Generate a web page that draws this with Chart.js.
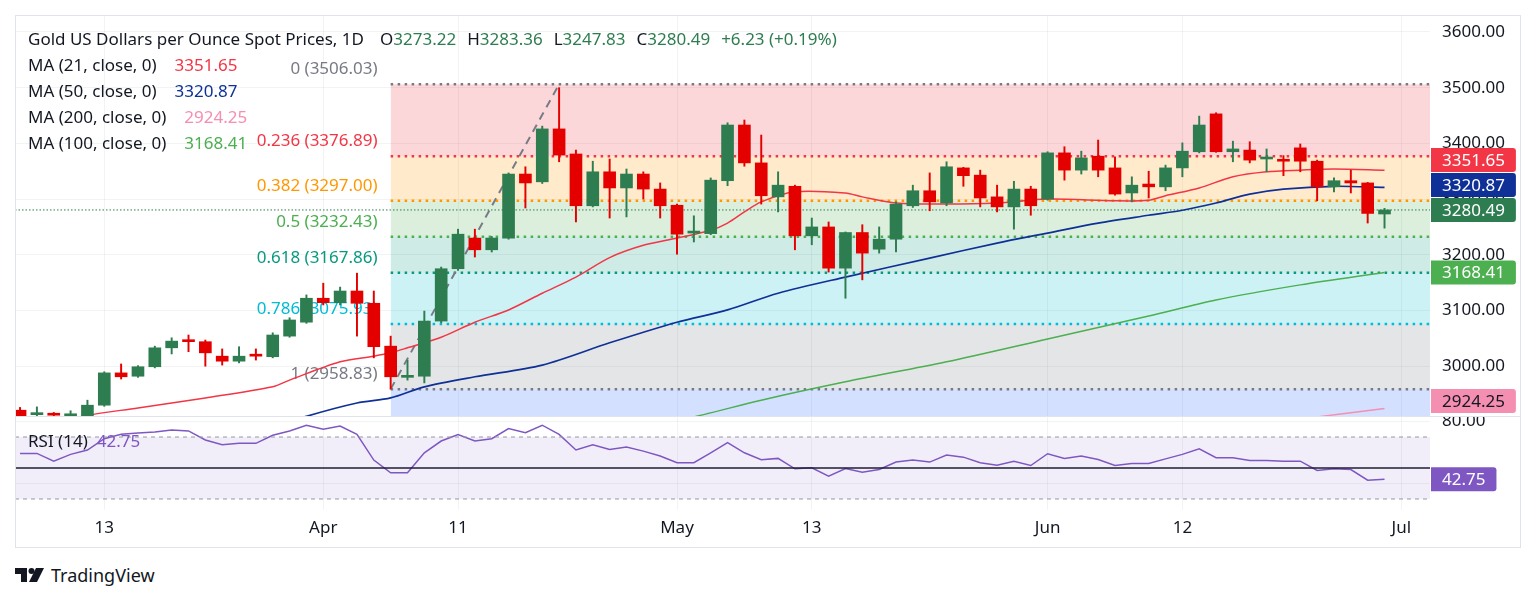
<!DOCTYPE html>
<html>
<head>
<meta charset="utf-8">
<title>Gold US Dollars per Ounce Spot Prices, 1D</title>
<script src="https://cdn.jsdelivr.net/npm/chart.js@4.4.1/dist/chart.umd.min.js"></script>
<style>
body { margin: 0; background: #fff; }
#page { position: relative; width: 1536px; height: 602px; overflow: hidden; font-family: 'Noto Sans', sans-serif; color: #131722; }
canvas { position: absolute; left: 15px; }
#priceCanvas { top: 15px; }
#rsiCanvas { top: 417px; }
#frame { position: absolute; left: 15px; top: 15px; width: 1506px; height: 533px; border: 1px solid #e0e3eb; box-sizing: border-box; pointer-events: none; }
#sep { position: absolute; left: 15px; top: 416px; width: 1506px; height: 1px; background: #e0e3eb; }
.row { position: absolute; left: 28px; font-size: 17px; line-height: 20px; white-space: pre; }
.row .gap { margin-left: 11px; }
.row .val { margin-left: 18px; }
#logo { position: absolute; left: 15px; top: 563px; display: flex; align-items: center; }
#logo span { font-size: 18px; margin-left: 6px; }
</style>
</head>
<body>
<div id="page">
  <canvas id="priceCanvas" width="1506" height="402"></canvas>
  <canvas id="rsiCanvas" width="1506" height="131"></canvas>
  <div id="frame"></div>
  <div id="sep"></div>
  <div id="legend"></div>
  <div id="logo">
    <svg width="30" height="16" viewBox="0 0 30 16">
      <path d="M0 1h12v14H6V7H0z" fill="#131722"/>
      <circle cx="16.5" cy="4" r="3" fill="#131722"/>
      <path d="M21 1h8l-7 14h-8z" fill="#131722"/>
    </svg>
    <span>TradingView</span>
  </div>
</div>
<script>
// daily candles, Mar 6 -> Jun 30 (x = trading day index)
const opens  = [2921, 2913, 2914, 2911, 2906, 2930, 2988, 2982, 2999, 3033, 3047, 3044, 3018, 3009, 3020, 3017, 3054, 3079, 3122, 3114,
                3135, 3113, 3036, 2980, 2982, 3081, 3175, 3230, 3209, 3230, 3345, 3331, 3426, 3381, 3288, 3349, 3320, 3345, 3318, 3289,
                3239, 3238, 3333, 3433, 3365, 3304, 3323, 3234, 3250, 3176, 3240, 3210, 3228, 3288, 3315, 3293, 3356, 3343, 3304, 3286,
                3318, 3300, 3383, 3352, 3377, 3356, 3311, 3327, 3322, 3356, 3385, 3453, 3385, 3388, 3372, 3370, 3392, 3368, 3322, 3333,
                3329, 3273.22];
const highs  = [2926, 2927, 2917, 2920, 2939, 2990, 3004, 3001, 3036, 3051, 3056, 3047, 3031, 3035, 3031, 3060, 3087, 3128, 3149, 3142,
                3167, 3135, 3054, 3011, 3099, 3178, 3246, 3246, 3233, 3347, 3358, 3431, 3500, 3388, 3368, 3372, 3354, 3349, 3329, 3291,
                3270, 3338, 3437, 3442, 3415, 3349, 3325, 3266, 3259, 3241, 3254, 3250, 3295, 3325, 3347, 3367, 3357, 3352, 3325, 3332,
                3323, 3385, 3394, 3386, 3406, 3376, 3340, 3350, 3361, 3401, 3449, 3455, 3404, 3403, 3390, 3378, 3399, 3370, 3338, 3352,
                3330, 3283.36];
const lows   = [2903, 2905, 2905, 2905, 2900, 2928, 2977, 2980, 2997, 3022, 3026, 3000, 3002, 3006, 3011, 3015, 3052, 3077, 3110, 3110,
                3054, 3015, 2958.83, 2975, 2970, 3078, 3172, 3196, 3205, 3228, 3284, 3328, 3367, 3259, 3286, 3266, 3268, 3300, 3266, 3201,
                3223, 3236, 3324, 3359, 3291, 3277, 3209, 3218, 3169, 3122, 3155, 3203, 3205, 3285, 3279, 3288, 3323, 3286, 3277, 3246,
                3271, 3298, 3334, 3345, 3340, 3307, 3295, 3302, 3315, 3340, 3383, 3384, 3367, 3365, 3349, 3342, 3349, 3297, 3313, 3311,
                3257, 3247.83];
const closes = [2909, 2916, 2912, 2913, 2930, 2988, 2981, 2999, 3033, 3045, 3044, 3024, 3009, 3018, 3018, 3056, 3083, 3122, 3114, 3135,
                3113, 3035, 2981, 2982, 3081, 3175, 3237, 3209, 3230, 3345, 3329, 3426, 3379, 3288, 3349, 3320, 3345, 3318, 3288, 3237,
                3241, 3334, 3433, 3365, 3306, 3325, 3234, 3250, 3176, 3240, 3203, 3228, 3291, 3315, 3295, 3358, 3342, 3302, 3286, 3318,
                3288, 3383, 3352, 3374, 3352, 3309, 3325, 3322, 3356, 3386, 3433, 3385, 3390, 3370, 3374, 3368, 3368, 3322, 3333, 3329,
                3274.26, 3280.49];

// moving averages (x = day index)
const ma21X  = [2, 4, 7, 11, 15, 16, 19, 21, 22, 23, 25, 27, 29, 31, 33, 35, 37, 39, 41, 42, 43, 44, 46, 49, 50, 52, 55, 58, 61, 65, 67, 68, 70, 72, 74, 76, 78, 81];
const ma21Y  = [2898, 2912, 2925, 2943, 2963, 2975, 3008, 3018, 3024, 3033, 3052, 3079, 3101, 3131, 3160, 3195, 3217, 3230, 3244, 3257, 3277, 3295, 3313, 3311, 3304, 3293, 3291, 3293, 3300, 3297, 3298, 3306, 3320, 3340, 3349, 3352, 3354, 3351.65];
const ma50X  = [16, 17, 20, 22, 24, 27, 31, 35, 39, 42, 45, 49, 54, 58, 61, 64, 67, 69, 71, 73, 75, 78, 81];
const ma50Y  = [2898, 2910, 2934, 2943, 2963, 2981, 3002, 3042, 3079, 3101, 3131, 3160, 3194, 3221, 3239, 3257, 3271, 3280, 3293, 3309, 3318, 3323, 3320.87];
const ma100X = [38, 40, 44, 49, 55, 61, 67, 71, 76, 81];
const ma100Y = [2898, 2909, 2939, 2972, 3008, 3049, 3090, 3119, 3146, 3168.41];
const ma200X = [75, 77, 81];
const ma200Y = [2903, 2909, 2924.25];

// RSI (14), one value per candle
const rsi = [59.4, 59.4, 54.4, 58.8, 61.6, 68.9, 71.7, 72.5, 73.2, 74.5, 73.9, 68.1, 65.0, 65.9, 65.9, 71.1, 73.9, 77.6, 75.0, 77.1,
             71.7, 55.1, 46.9, 46.9, 59.8, 67.4, 71.5, 67.4, 68.9, 75.4, 72.8, 77.6, 71.7, 61.6, 65.0, 62.0, 63.5, 60.9, 57.7, 53.4,
             53.4, 59.8, 66.3, 59.8, 55.3, 56.2, 49.5, 50.1, 44.7, 49.7, 47.3, 49.0, 53.8, 55.1, 53.8, 58.3, 57.0, 53.4, 51.8, 54.4,
             51.6, 59.2, 56.2, 57.7, 55.5, 51.6, 52.9, 52.9, 55.9, 58.8, 62.4, 56.6, 56.6, 54.9, 54.9, 54.4, 54.4, 48.4, 49.5, 49.0,
             42.1, 42.75];
const rsiLevels = [70, 50, 30];

// fib retracement Apr 7 low -> Apr 22 high
const fibStart = 22, fibEnd = 32;
const fibRatios = [0, 0.236, 0.382, 0.5, 0.618, 0.786, 1];
const fibPrices = [3506.03, 3376.89, 3297.00, 3232.43, 3167.86, 3075.93, 2958.83];

const tickIdx  = [5, 18, 26, 39, 47, 61, 69, 82];
const tickText = ['13', 'Apr', '11', 'May', '13', 'Jun', '12', 'Jul'];
const priceTicks = [3000, 3100, 3200, 3300, 3400, 3500, 3600];
const rsiTicks = [40, 80];

const xMin = -0.3, xMax = 83.7;
const green = '#2e7d50', red = '#e50000';
const fibLine = ['#787b86', '#f23645', '#ff9800', '#4caf50', '#089981', '#00bcd4', '#787b86'];
const fibZone = ['', 'rgba(242,54,69,0.2)', 'rgba(255,152,0,0.2)', 'rgba(76,175,80,0.2)', 'rgba(8,153,129,0.2)', 'rgba(0,188,212,0.2)', 'rgba(120,123,134,0.2)'];
const gridColor = 'rgba(42,46,57,0.06)';
const FONT = "'Noto Sans', sans-serif";
const FSIZE = 17;

Chart.defaults.font.family = FONT;
Chart.defaults.font.size = FSIZE;
Chart.defaults.color = '#131722';

const last = closes.length - 1;
const chg = closes[last] - closes[last - 1];

// legend
const legend = document.getElementById('legend');
function row(top, html) {
    const d = document.createElement('div');
    d.className = 'row';
    d.style.top = top + 'px';
    d.innerHTML = html;
    legend.appendChild(d);
}
const g = v => `<span style="color:${green}">${v}</span>`;
const item = (k, v) => `<span class="gap">${k}</span>${g(v)}`;
row(29, `<span style="margin-right:5px">Gold US Dollars per Ounce Spot Prices, 1D</span>` +
    item('O', opens[last].toFixed(2)) + item('H', highs[last].toFixed(2)) +
    item('L', lows[last].toFixed(2)) + item('C', closes[last].toFixed(2)) +
    item('', '+' + chg.toFixed(2) + ' (+' + (chg / closes[last - 1] * 100).toFixed(2) + '%)'));
row(55, `MA (21, close, 0)<span class="val" style="color:#f23645">${ma21Y[ma21Y.length - 1].toFixed(2)}</span>`);
row(81, `MA (50, close, 0)<span class="val" style="color:#0f3096">${ma50Y[ma50Y.length - 1].toFixed(2)}</span>`);
row(107, `MA (200, close, 0)<span class="val" style="color:#f48fb1">${ma200Y[ma200Y.length - 1].toFixed(2)}</span>`);
row(133, `MA (100, close, 0)<span class="val" style="color:#4caf50">${ma100Y[ma100Y.length - 1].toFixed(2)}</span>`);
row(431, `RSI (14)<span class="val" style="color:#7e57c2;margin-left:9px">${rsi[last].toFixed(2)}</span>`);

const pts = (xs, ys) => xs.map((x, i) => ({ x: x, y: ys[i] }));
const flat = (v, a, b) => [{ x: a, y: v }, { x: b, y: v }];

function drawBoxes(chart, boxes) {
    const { ctx, chartArea, scales: { y } } = chart;
    const items = boxes.map(b => Object.assign({}, b, { py: y.getPixelForValue(b.value) })).sort((a, b) => b.py - a.py);
    let prev = null;
    items.forEach(it => {
        if (it.py + 12 > chartArea.bottom - 4) it.py = chartArea.bottom - 16;
        if (prev && it.py > prev.py - 25) it.py = prev.py - 25;
        prev = it;
    });
    ctx.save();
    ctx.font = FSIZE + 'px ' + FONT;
    ctx.textBaseline = 'middle';
    items.forEach(it => {
        const txt = it.value.toFixed(2);
        const w = ctx.measureText(txt).width + 22;
        ctx.fillStyle = it.color;
        ctx.beginPath();
        ctx.roundRect(chartArea.right + 1, it.py - 12, w, 24, [0, 3, 3, 0]);
        ctx.fill();
        ctx.fillStyle = it.text || '#ffffff';
        ctx.fillText(txt, chartArea.right + 12, it.py + 1);
    });
    ctx.restore();
}

const fibLabels = {
    id: 'fibLabels',
    beforeDatasetsDraw(chart) {
        const { ctx, scales: { x, y } } = chart;
        ctx.save();
        ctx.font = FSIZE + 'px ' + FONT;
        ctx.textAlign = 'right';
        ctx.textBaseline = 'middle';
        const right = x.getPixelForValue(fibStart) - 13;
        fibRatios.forEach((r, i) => {
            ctx.fillStyle = fibLine[i];
            ctx.fillText(`${r} (${fibPrices[i].toFixed(2)})`, right, y.getPixelForValue(fibPrices[i]) - 15);
        });
        ctx.restore();
    }
};

const priceBoxes = {
    id: 'priceBoxes',
    afterDraw(chart) {
        drawBoxes(chart, [
            { value: ma21Y[ma21Y.length - 1], color: '#f23645' },
            { value: ma50Y[ma50Y.length - 1], color: '#0f3096' },
            { value: closes[last], color: green },
            { value: ma100Y[ma100Y.length - 1], color: '#4caf50' },
            { value: ma200Y[ma200Y.length - 1], color: '#f48fb1', text: '#131722' }
        ]);
    }
};

const rsiBox = {
    id: 'rsiBox',
    afterDraw(chart) {
        drawBoxes(chart, [{ value: rsi[last], color: '#7e57c2' }]);
    }
};

function xScale(showLabels) {
    return {
        type: 'linear', min: xMin, max: xMax, offset: false,
        grid: { color: gridColor, drawTicks: false, offset: false },
        border: { display: false },
        ticks: {
            display: showLabels, padding: 8, autoSkip: false, maxRotation: 0,
            callback: v => tickText[tickIdx.indexOf(v)]
        },
        afterBuildTicks: s => { s.ticks = tickIdx.map(v => ({ value: v })); },
        afterFit: s => { s.height = showLabels ? 38 : 0; s.paddingLeft = 0; s.paddingRight = 0; }
    };
}

function yScale(min, max, ticks) {
    return {
        position: 'right', min: min, max: max,
        grid: { color: gridColor, drawTicks: false },
        border: { display: false },
        ticks: { padding: 12, callback: v => v.toFixed(2) },
        afterBuildTicks: s => { s.ticks = ticks.map(v => ({ value: v })); },
        afterFit: s => { s.width = 91; s.paddingTop = 0; s.paddingBottom = 0; }
    };
}

// fib zones (fill only), then fib dotted lines
const fibFill = fibPrices.map((p, i) => ({
    type: 'line', data: flat(p, fibStart, xMax), borderWidth: 0, pointRadius: 0,
    fill: i === 0 ? false : '-1', backgroundColor: fibZone[i], order: 10
}));
fibFill.push({
    type: 'line', data: flat(fibPrices[fibPrices.length - 1], fibStart, xMax), borderWidth: 0, pointRadius: 0,
    fill: 'start', backgroundColor: 'rgba(41,98,255,0.2)', order: 10
});
const fibLines = fibPrices.map((p, i) => ({
    type: 'line', data: flat(p, fibStart, xMax), borderColor: fibLine[i], borderWidth: 2.5,
    borderDash: [2.5, 4.5], pointRadius: 0, fill: false, order: 9
}));

const candleColors = closes.map((c, i) => c >= opens[i] ? green : red);

new Chart(document.getElementById('priceCanvas'), {
    type: 'bar',
    data: {
        datasets: [
            ...fibFill,
            ...fibLines,
            {
                type: 'line', data: [{ x: fibStart, y: fibPrices[fibPrices.length - 1] }, { x: fibEnd, y: fibPrices[0] }],
                borderColor: '#787b86', borderWidth: 2, borderDash: [8, 6], pointRadius: 0, fill: false, order: 8
            },
            {
                type: 'line', data: flat(closes[last], xMin, xMax), borderColor: green, borderWidth: 1,
                borderDash: [1.5, 2], pointRadius: 0, fill: false, order: 7
            },
            { type: 'line', data: pts(ma200X, ma200Y), borderColor: '#f48fb1', borderWidth: 1.5, pointRadius: 0, tension: 0.3, fill: false, order: 5 },
            { type: 'line', data: pts(ma100X, ma100Y), borderColor: '#4caf50', borderWidth: 1.5, pointRadius: 0, tension: 0.3, fill: false, order: 5 },
            { type: 'line', data: pts(ma50X, ma50Y), borderColor: '#0f3096', borderWidth: 1.7, pointRadius: 0, tension: 0.3, fill: false, order: 5 },
            { type: 'line', data: pts(ma21X, ma21Y), borderColor: '#f23645', borderWidth: 1.5, pointRadius: 0, tension: 0.3, fill: false, order: 5 },
            {
                data: highs.map((h, i) => ({ x: i, y: [lows[i], h] })),
                backgroundColor: candleColors, grouped: false, maxBarThickness: 1.3,
                categoryPercentage: 1, barPercentage: 1, minBarLength: 1, order: 2
            },
            {
                data: opens.map((o, i) => ({ x: i, y: [o, closes[i]] })),
                backgroundColor: candleColors, grouped: false, maxBarThickness: 12,
                categoryPercentage: 1, barPercentage: 1, minBarLength: 2, order: 1
            }
        ]
    },
    options: {
        responsive: false, animation: false, events: [],
        layout: { padding: 0 },
        plugins: { legend: { display: false }, tooltip: { enabled: false } },
        scales: { x: xScale(false), y: yScale(2908.8, 3630.5, priceTicks) }
    },
    plugins: [fibLabels, priceBoxes]
});

new Chart(document.getElementById('rsiCanvas'), {
    type: 'line',
    data: {
        datasets: [
            { data: flat(rsiLevels[0], xMin, xMax), borderColor: '#9598a1', borderWidth: 1, borderDash: [4, 4], pointRadius: 0, fill: false },
            { data: flat(rsiLevels[2], xMin, xMax), borderColor: '#9598a1', borderWidth: 1, borderDash: [4, 4], pointRadius: 0, fill: '-1', backgroundColor: 'rgba(126,87,194,0.1)' },
            { data: flat(rsiLevels[1], xMin, xMax), borderColor: '#131722', borderWidth: 1.3, pointRadius: 0, fill: false },
            { data: rsi.map((v, i) => ({ x: i, y: v })), borderColor: '#7e57c2', borderWidth: 1.5, pointRadius: 0, fill: false }
        ]
    },
    options: {
        responsive: false, animation: false, events: [],
        layout: { padding: 0 },
        plugins: { legend: { display: false }, tooltip: { enabled: false } },
        scales: { x: xScale(true), y: yScale(22.9, 82.9, rsiTicks) }
    },
    plugins: [rsiBox]
});
</script>
</body>
</html>
